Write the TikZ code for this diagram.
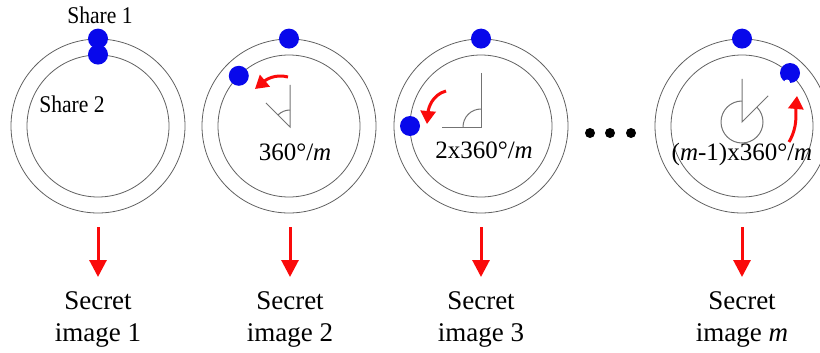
\documentclass[tikz,border=0pt]{standalone}
\usepackage{fontspec}
\setmainfont{Liberation Serif}
\newfontfamily\narrowserif[FakeStretch=0.9]{Liberation Serif}
\usetikzlibrary{arrows.meta}
\definecolor{shareblue}{RGB}{8,8,235}
\definecolor{arrowred}{RGB}{250,10,10}
\begin{document}
\begin{tikzpicture}[x=1pt,y=1pt,
  ring/.style={circle, draw=black!62, line width=0.8pt, inner sep=0},
  outerring/.style={ring, minimum size=174pt},
  innerring/.style={ring, minimum size=142pt},
  sharedot/.style={circle, fill=shareblue, inner sep=0, minimum size=20pt},
  anglemark/.style={draw=black!55, line width=1pt},
  bigarrow/.style={draw=arrowred, line width=3pt, -{Triangle[width=17pt,length=17pt]}},
  turnarrow/.style={draw=arrowred, line width=3pt, -{Triangle[width=15pt,length=13pt]}},
  secret/.style={font=\fontsize{27}{32}\selectfont, align=center, anchor=north, inner sep=0},
  anglelabel/.style={font=\fontsize{25}{30}\selectfont, anchor=base, inner sep=0},
  sharelabel/.style={font=\narrowserif\fontsize{24}{28}\selectfont, anchor=base, inner sep=0},
  ellipsisdot/.style={circle, fill=black, inner sep=0, minimum size=10pt}
]
\useasboundingbox (0,0) rectangle (820,-353);

% rings
\node[outerring] (c1o) at (98,-126) {};
\node[innerring] (c1i) at (98,-126) {};
\node[outerring] (c2o) at (289,-126) {};
\node[innerring] (c2i) at (289,-126) {};
\node[outerring] (c3o) at (481,-126) {};
\node[innerring] (c3i) at (481,-126) {};
\node[outerring] (c4o) at (742,-126) {};
\node[innerring] (c4i) at (742,-126) {};

% labels of the first ring
\node[sharelabel] (sh1) at (100,-24) {Share 1};
\node[sharelabel] (sh2) at (72,-113) {Share 2};

% angle marks
\draw[anglemark] (290,-85) -- (290,-127) -- ++(135:34);
\draw[anglemark] (290,-127) ++(90:17) arc[start angle=90, end angle=135, radius=17];
\draw[anglemark] (481,-73) -- (481,-127) -- (442,-127);
\draw[anglemark] (481,-127) ++(90:18) arc[start angle=90, end angle=180, radius=18];
\draw[anglemark] (742,-79) -- (742,-122) -- ++(45:37);
\draw[anglemark] (742,-122) ++(90:21) arc[start angle=90, end angle=405, radius=21];

% angle labels
\node[anglelabel] (a2) at (295,-160) {360°/\textit{m}};
\node[anglelabel] (a3) at (484,-158) {2x360°/\textit{m}};
\node[anglelabel] (a4) at (742,-160) {(\textit{m}-1)x360°/\textit{m}};

% share dots
\node[sharedot] (d1o) at (c1o.north) {};
\node[sharedot] (d1i) at (c1i.north) {};
\node[sharedot] (d2o) at (c2o.north) {};
\node[sharedot] (d2i) at ([shift={(135:71)}]c2i.center) {};
\node[sharedot] (d3o) at (c3o.north) {};
\node[sharedot] (d3i) at ([shift={(180:71)}]c3i.center) {};
\node[sharedot] (d4o) at (c4o.north) {};
\node[sharedot] (d4i) at (790,-73) {};
\fill[white] (787,-82.5) circle (3);

% rotation arrows
\coordinate (r2a) at (288,-77);
\coordinate (r2b) at (255,-89);
\draw[turnarrow] (r2a) to[out=165, in=40] (r2b);
\coordinate (r3a) at (446,-91);
\coordinate (r3b) at (427,-124);
\draw[turnarrow] (r3a) to[out=195, in=85] (r3b);
\coordinate (r4a) at (789,-142);
\coordinate (r4b) at (797,-96);
\draw[turnarrow] (r4a) to[out=60, in=-95] (r4b);

% ellipsis
\node[ellipsisdot] (e1) at (590,-133) {};
\node[ellipsisdot] (e2) at (610,-133) {};
\node[ellipsisdot] (e3) at (631,-133) {};

% secret images
\node[secret] (s1) at (98,-291) {Secret\\image 1};
\node[secret] (s2) at (290,-291) {Secret\\image 2};
\node[secret] (s3) at (481,-291) {Secret\\image 3};
\node[secret] (s4) at (742,-291) {Secret\\image \textit{m}};

\draw[bigarrow] ([yshift=-14pt]c1o.south) -- ([yshift=14pt]s1.north);
\draw[bigarrow] ([yshift=-14pt,xshift=1pt]c2o.south) -- ([yshift=14pt]s2.north);
\draw[bigarrow] ([yshift=-14pt]c3o.south) -- ([yshift=14pt]s3.north);
\draw[bigarrow] ([yshift=-14pt]c4o.south) -- ([yshift=14pt]s4.north);
\end{tikzpicture}
\end{document}
